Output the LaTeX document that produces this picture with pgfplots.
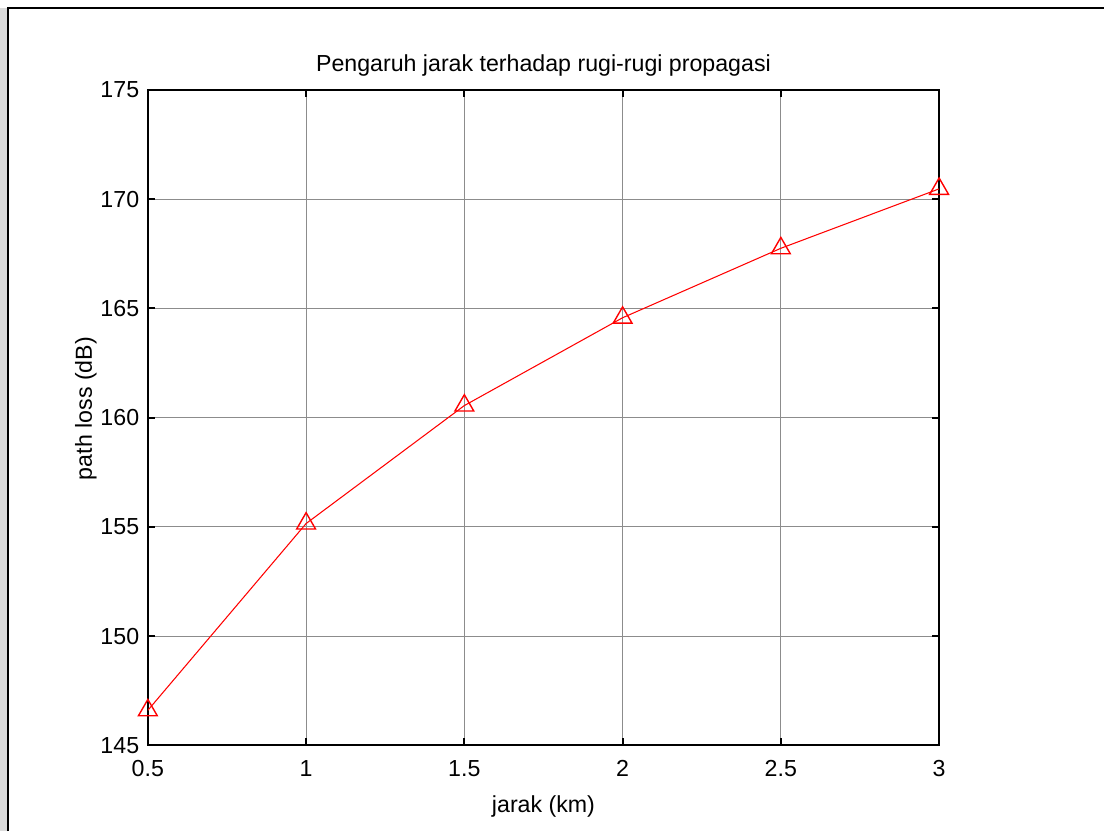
\documentclass[border=0pt]{standalone}
\usepackage{fontspec}
\setmainfont{Liberation Sans}
\usepackage{pgfplots}
\pgfplotsset{compat=1.18}
\begin{document}
\begin{tikzpicture}
\def\fnt{\fontsize{6.6}{7.8}\selectfont}
\begin{axis}[
  at={(0,0)}, anchor=south west,
  scale only axis,
  width=7.92cm, height=6.56cm,
  xmin=0.5, xmax=3, ymin=145, ymax=175,
  xtick={0.5,1,1.5,2,2.5,3},
  ytick={145,150,155,160,165,170,175},
  xticklabels={0.5,1,1.5,2,2.5,3},
  /pgf/number format/assume math mode=true,
  tick align=inside,
  major tick length=0.7mm,
  every tick/.style={black, line width=0.6pt},
  axis line style={black, line width=0.6pt},
  grid=major,
  major grid style={color=black!45, line width=0.3pt},
  tick label style={font=\fnt},
  xticklabel style={anchor=base, yshift=-3.1mm},
  yticklabel style={anchor=east, inner sep=0pt, xshift=-0.8mm},
  every axis title shift=0pt,
  title={Pengaruh jarak terhadap rugi-rugi propagasi},
  title style={font=\fnt, at={(axis description cs:0.5,1.0279)}, anchor=base, yshift=0pt, inner sep=0pt},
  xlabel={jarak (km)},
  xlabel style={font=\fnt, at={(axis description cs:0.5,-0.1021)}, anchor=base, inner sep=0pt},
  ylabel={path loss (dB)},
  ylabel style={font=\fnt, at={(axis description cs:-0.0707,0.5137)}, anchor=base, inner sep=0pt},
]
\addplot[red, line width=0.3pt, mark=triangle, mark size=3.1pt, mark options={solid, red, fill=none, line width=0.4pt}]
  coordinates {(0.5,146.6) (1,155.15) (1.5,160.55) (2,164.57) (2.5,167.75) (3,170.47)};
\end{axis}
\fill[black!14] (-1.48cm,-0.86cm) rectangle (-1.41cm,7.38cm);
\draw[black, line width=0.6pt] (-1.40cm,-0.86cm) -- (-1.40cm,7.38cm) -- (9.57cm,7.38cm);
\path[use as bounding box] (-1.48cm,-0.86cm) rectangle (9.57cm,7.46cm);
\end{tikzpicture}
\end{document}
